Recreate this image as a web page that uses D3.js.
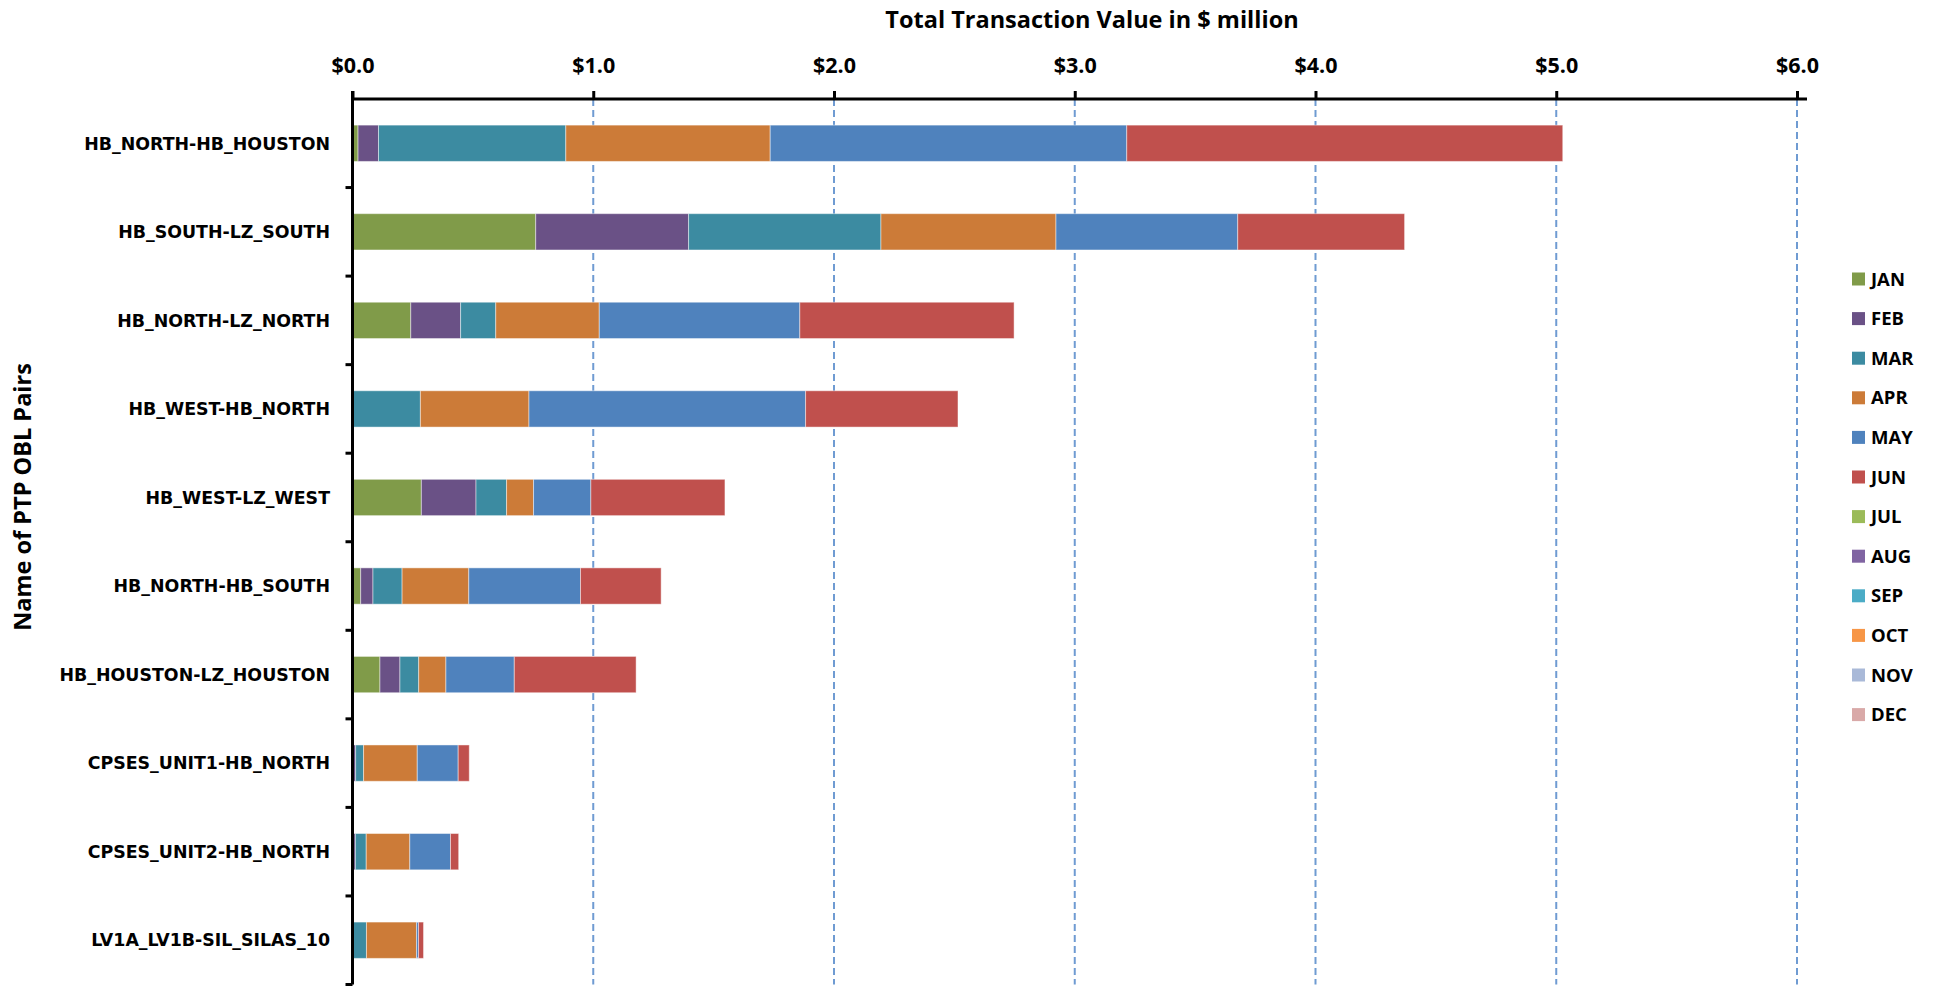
<!DOCTYPE html>
<html>
<head>
<meta charset="utf-8">
<script src="https://cdn.jsdelivr.net/npm/d3@7"></script>
<style>
    body { margin: 0; background: #fff; }
    svg text { font-family: "Open Sans", "DejaVu Sans", sans-serif; font-weight: bold; fill: #000; }
</style>
</head>
<body>
<svg width="1941" height="986"></svg>
<script>
(function () {
    const pairs = [
        'HB_NORTH-HB_HOUSTON', 'HB_SOUTH-LZ_SOUTH', 'HB_NORTH-LZ_NORTH', 'HB_WEST-HB_NORTH',
        'HB_WEST-LZ_WEST', 'HB_NORTH-HB_SOUTH', 'HB_HOUSTON-LZ_HOUSTON',
        'CPSES_UNIT1-HB_NORTH', 'CPSES_UNIT2-HB_NORTH', 'LV1A_LV1B-SIL_SILAS_10'
    ];
    const months = ['JAN', 'FEB', 'MAR', 'APR', 'MAY', 'JUN', 'JUL', 'AUG', 'SEP', 'OCT', 'NOV', 'DEC'];
    const colors = ['#809b49', '#6a5186', '#3c8ba1', '#cc7b38', '#4f82bd', '#c0504d',
                    '#9bbb59', '#8064a2', '#4bacc6', '#f79646', '#a9b9d8', '#d9a9a8'];
    const xTicks = [0, 1, 2, 3, 4, 5, 6];

    // values in $ million, one array per month, same order as pairs
    const jan = [0.023, 0.761, 0.242, 0.000, 0.286, 0.034, 0.114, 0.004, 0.002, 0.000];
    const feb = [0.085, 0.635, 0.207, 0.000, 0.227, 0.051, 0.083, 0.009, 0.010, 0.002];
    const mar = [0.778, 0.799, 0.146, 0.282, 0.127, 0.121, 0.078, 0.033, 0.045, 0.056];
    const apr = [0.849, 0.727, 0.430, 0.451, 0.112, 0.277, 0.113, 0.223, 0.181, 0.208];
    const may = [1.481, 0.755, 0.833, 1.149, 0.238, 0.464, 0.284, 0.170, 0.169, 0.008];
    const jun = [1.811, 0.693, 0.890, 0.633, 0.557, 0.335, 0.506, 0.046, 0.034, 0.021];
    const jul = [0, 0, 0, 0, 0, 0, 0, 0, 0, 0];
    const aug = [0, 0, 0, 0, 0, 0, 0, 0, 0, 0];
    const sep = [0, 0, 0, 0, 0, 0, 0, 0, 0, 0];
    const oct = [0, 0, 0, 0, 0, 0, 0, 0, 0, 0];
    const nov = [0, 0, 0, 0, 0, 0, 0, 0, 0, 0];
    const dec = [0, 0, 0, 0, 0, 0, 0, 0, 0, 0];
    const series = [jan, feb, mar, apr, may, jun, jul, aug, sep, oct, nov, dec];

    const svg = d3.select('svg');
    const left = 352.5, right = 1797, top = 99, bottom = 984.5;

    const x = d3.scaleLinear().domain([0, 6]).range([left, right]);
    const y = d3.scaleBand().domain(pairs).range([top, bottom]).paddingInner(0.59).paddingOuter(0.295);

    const table = pairs.map((p, i) => {
        const row = { pair: p };
        months.forEach((m, j) => { row[m] = series[j][i]; });
        return row;
    });
    const stacked = d3.stack().keys(months)(table);
    const color = d3.scaleOrdinal().domain(months).range(colors);

    // gridlines
    svg.append('g')
        .selectAll('line')
        .data(xTicks.slice(1))
        .enter().append('line')
        .attr('x1', d => x(d)).attr('x2', d => x(d))
        .attr('y1', top).attr('y2', bottom)
        .attr('stroke', '#6f9bd2')
        .attr('stroke-width', 2)
        .attr('stroke-dasharray', '7,4');

    // bars
    svg.append('g')
        .selectAll('g')
        .data(stacked)
        .enter().append('g')
        .attr('fill', d => color(d.key))
        .selectAll('rect')
        .data(d => d.filter(s => s[1] - s[0] > 0))
        .enter().append('rect')
        .attr('x', d => x(d[0]))
        .attr('width', d => x(d[1]) - x(d[0]))
        .attr('y', d => y(d.data.pair))
        .attr('height', y.bandwidth())
        .attr('stroke', 'rgba(255,255,255,0.45)')
        .attr('stroke-width', 1);

    // top x axis
    const xAxis = svg.append('g')
        .attr('transform', `translate(0,${top})`)
        .call(d3.axisTop(x).tickValues(xTicks).tickSize(8).tickFormat(d => '$' + d3.format('.1f')(d)));
    xAxis.select('.domain').attr('stroke', '#000').attr('stroke-width', 3).attr('d', `M${left},0H${right + 10}`);
    xAxis.selectAll('.tick line').attr('stroke', '#000').attr('stroke-width', 3);
    xAxis.selectAll('.tick text')
        .attr('y', -26)
        .style('font-size', '21.5px')
        .style('font-family', '"Open Sans", sans-serif')
        .style('font-weight', 'bold');

    // left y axis with ticks at category boundaries
    svg.append('line')
        .attr('x1', left).attr('x2', left)
        .attr('y1', top - 8).attr('y2', bottom)
        .attr('stroke', '#000').attr('stroke-width', 3);
    const step = y.step();
    svg.append('g')
        .selectAll('line')
        .data(pairs)
        .enter().append('line')
        .attr('x1', left - 7).attr('x2', left)
        .attr('y1', d => y(d) + y.bandwidth() / 2 + step / 2)
        .attr('y2', d => y(d) + y.bandwidth() / 2 + step / 2)
        .attr('stroke', '#000').attr('stroke-width', 3);

    svg.append('g')
        .selectAll('text')
        .data(pairs)
        .enter().append('text')
        .attr('x', 330)
        .attr('y', d => y(d) + y.bandwidth() / 2)
        .attr('dy', '0.36em')
        .attr('text-anchor', 'end')
        .style('font-family', '"DejaVu Sans", sans-serif')
        .style('font-size', '17.4px')
        .text(d => d);

    // titles
    svg.append('text')
        .attr('x', 1092).attr('y', 28)
        .attr('text-anchor', 'middle')
        .style('font-size', '23.5px')
        .text('Total Transaction Value in $ million');

    svg.append('text')
        .attr('transform', 'translate(31,497) rotate(-90)')
        .attr('text-anchor', 'middle')
        .style('font-size', '23.5px')
        .text('Name of PTP OBL Pairs');

    // legend
    const legend = svg.append('g')
        .selectAll('g')
        .data(months)
        .enter().append('g')
        .attr('transform', (d, i) => `translate(1852,${279 + i * 39.6})`);
    legend.append('rect')
        .attr('x', 0).attr('y', -6.5)
        .attr('width', 13).attr('height', 13)
        .attr('fill', d => color(d));
    legend.append('text')
        .attr('x', 19).attr('y', 0)
        .attr('dy', '0.36em')
        .style('font-size', '18.5px')
        .text(d => d);
})();
</script>
</body>
</html>
